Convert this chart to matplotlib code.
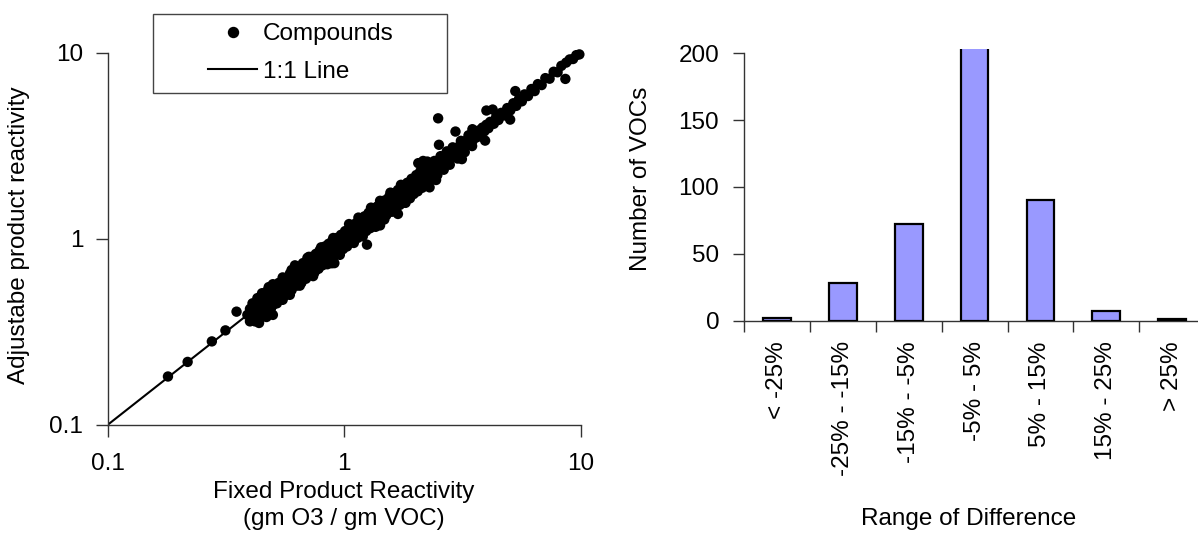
import matplotlib
matplotlib.use("Agg")
import matplotlib.pyplot as plt
from matplotlib.lines import Line2D
from matplotlib.patches import Rectangle
from matplotlib.ticker import FixedLocator, FixedFormatter, NullLocator

plt.rcParams['font.family'] = ['Liberation Sans', 'DejaVu Sans']
FS = 17.5

# ---------------- data: scatter (Fixed vs Adjustable product reactivity) ----------------
fixed_x = [
    0.18, 0.218, 0.276, 0.315, 0.351,
    0.39, 0.40, 0.41, 0.42, 0.42, 0.43, 0.44, 0.44, 0.45, 0.46, 0.46, 0.47, 0.48, 0.48, 0.49,
    0.50, 0.50, 0.437, 0.47, 0.52, 0.50, 0.50,
    0.51, 0.52, 0.53, 0.54, 0.55, 0.56, 0.57, 0.58, 0.58, 0.60, 0.61, 0.62, 0.63, 0.64, 0.65,
    0.66, 0.67, 0.68, 0.69, 0.70, 0.71, 0.72, 0.73, 0.74, 0.75, 0.76, 0.77, 0.78, 0.80, 0.81,
    0.82, 0.84, 0.85, 0.86, 0.88, 0.89, 0.90, 0.92, 0.93, 0.95, 0.96, 0.98, 0.99,
    0.62, 0.71, 0.55, 0.91, 0.59, 0.887,
    0.40, 0.41, 0.43, 0.45, 0.47, 0.49, 0.51, 0.52, 0.53, 0.54, 0.56, 0.57, 0.59, 0.60, 0.61,
    0.63, 0.64, 0.66, 0.67, 0.69, 0.70, 0.72, 0.73, 0.75, 0.76, 0.78, 0.79, 0.81, 0.83, 0.84,
    0.86, 0.88, 0.89, 0.91, 0.93, 0.95, 0.97, 0.99,
    0.55, 0.60, 0.65, 0.70, 0.74, 0.80, 0.85, 0.90, 0.96, 0.45, 0.42, 0.48,
    1.00, 1.02, 1.04, 1.05, 1.07, 1.08, 1.10, 1.11, 1.13, 1.15, 1.16, 1.18, 1.20, 1.21, 1.23,
    1.25, 1.26, 1.28, 1.30, 1.31, 1.33, 1.35, 1.37, 1.39, 1.41, 1.43, 1.45, 1.47, 1.50, 1.52,
    1.54, 1.56, 1.59, 1.61, 1.63, 1.66, 1.68, 1.70, 1.73, 1.76, 1.78, 1.81, 1.84, 1.86, 1.89,
    1.92, 1.95, 1.98,
    1.01, 1.03, 1.06, 1.09, 1.12, 1.14, 1.17, 1.19, 1.22, 1.24, 1.27, 1.29, 1.32, 1.34, 1.38,
    1.40, 1.44, 1.46, 1.49, 1.51, 1.55, 1.58, 1.62, 1.65, 1.69, 1.72, 1.77, 1.80, 1.85, 1.88,
    1.93, 1.97,
    1.05, 1.10, 1.15, 1.20, 1.30, 1.36, 1.42, 1.48, 1.57, 1.64, 1.74, 1.82,
    1.25, 1.42, 1.69, 1.60, 1.75, 1.90,
    2.00, 2.03, 2.06, 2.08, 2.12, 2.16, 2.18, 2.22, 2.25, 2.28, 2.30, 2.33, 2.36, 2.40, 2.43,
    2.45, 2.47, 2.50, 2.50, 2.52, 2.55, 2.58, 2.62, 2.66, 2.70, 2.74, 2.78, 2.82, 2.86, 2.90,
    2.96, 2.95, 3.00, 3.05, 3.10, 3.15, 3.15, 3.20, 3.26, 3.32, 3.38, 3.44, 3.49, 3.50, 3.57,
    3.64, 3.71, 3.78, 3.85, 3.92, 3.95, 4.00,
    2.02, 2.05, 2.10, 2.14, 2.20, 2.24, 2.30, 2.35, 2.41, 2.48, 2.56, 2.64, 2.72, 2.80, 2.88,
    3.02, 3.12, 3.24, 3.36, 3.48,
    4.00, 4.08, 4.15, 4.25, 4.30, 4.40, 4.50, 4.62, 4.75, 4.90, 5.04, 5.05, 5.20, 5.30, 5.35,
    5.50, 5.65, 5.80, 6.00, 6.20, 6.40, 6.60, 6.85, 7.10, 7.40, 7.70, 8.00, 8.30, 8.63, 8.70,
    9.00, 9.30, 9.60, 9.89,
]
adjustable_y = [
    0.182, 0.218, 0.281, 0.322, 0.406,
    0.39, 0.42, 0.40, 0.44, 0.38, 0.41, 0.46, 0.37, 0.43, 0.48, 0.40, 0.45, 0.50, 0.42, 0.47,
    0.52, 0.44, 0.353, 0.38, 0.47, 0.57, 0.39,
    0.49, 0.53, 0.50, 0.56, 0.52, 0.54, 0.58, 0.55, 0.51, 0.60, 0.57, 0.63, 0.59, 0.66, 0.62,
    0.64, 0.70, 0.65, 0.62, 0.71, 0.68, 0.74, 0.70, 0.76, 0.72, 0.68, 0.78, 0.75, 0.82, 0.77,
    0.80, 0.86, 0.81, 0.84, 0.90, 0.85, 0.88, 0.94, 0.89, 0.97, 0.92, 1.00, 0.95,
    0.72, 0.80, 0.62, 0.74, 0.50, 0.739,
    0.36, 0.45, 0.48, 0.39, 0.52, 0.42, 0.56, 0.45, 0.58, 0.48, 0.61, 0.50, 0.65, 0.53, 0.67,
    0.56, 0.70, 0.58, 0.74, 0.61, 0.77, 0.64, 0.80, 0.66, 0.83, 0.69, 0.87, 0.72, 0.91, 0.75,
    0.94, 0.78, 0.97, 0.81, 1.01, 0.84, 1.05, 0.88,
    0.47, 0.68, 0.56, 0.79, 0.63, 0.90, 0.73, 1.01, 0.82, 0.51, 0.36, 0.55,
    1.03, 0.98, 1.07, 1.01, 1.10, 1.04, 1.06, 1.14, 1.09, 1.18, 1.12, 1.15, 1.24, 1.16, 1.20,
    1.29, 1.21, 1.24, 1.34, 1.26, 1.30, 1.39, 1.32, 1.35, 1.45, 1.38, 1.42, 1.52, 1.45, 1.48,
    1.59, 1.50, 1.55, 1.66, 1.57, 1.62, 1.74, 1.64, 1.69, 1.82, 1.71, 1.77, 1.90, 1.79, 1.85,
    1.98, 1.88, 1.93,
    1.10, 0.91, 1.15, 0.97, 1.21, 1.01, 1.27, 1.05, 1.32, 1.10, 1.38, 1.14, 1.43, 1.19, 1.49,
    1.24, 1.56, 1.29, 1.61, 1.34, 1.68, 1.40, 1.76, 1.46, 1.83, 1.52, 1.92, 1.59, 2.00, 1.66,
    2.10, 1.74,
    1.20, 0.95, 1.30, 1.03, 1.47, 1.16, 1.60, 1.27, 1.77, 1.41, 1.95, 1.56,
    0.93, 1.18, 1.36, 1.40, 1.55, 1.65,
    2.06, 1.96, 2.55, 2.12, 2.04, 2.62, 2.22, 2.15, 2.60, 2.33, 1.89, 2.25, 2.42, 2.31, 2.49,
    2.07, 2.38, 2.57, 4.44, 3.20, 2.46, 2.65, 2.52, 2.74, 2.60, 2.82, 2.68, 2.90, 2.75, 2.98,
    3.77, 2.84, 3.08, 2.94, 3.19, 2.68, 3.03, 3.29, 3.14, 3.41, 3.26, 3.54, 3.88, 3.37, 3.67,
    3.51, 3.82, 3.64, 3.96, 3.78, 3.37, 4.10,
    2.20, 1.80, 2.30, 1.88, 2.40, 1.97, 2.50, 2.08, 2.62, 2.20, 2.78, 2.35, 2.95, 2.50, 3.10,
    2.70, 3.36, 2.92, 3.60, 3.15,
    4.89, 3.93, 4.25, 4.95, 4.15, 4.52, 4.35, 4.75, 4.60, 5.04, 4.37, 4.90, 5.35, 6.22, 5.18,
    5.66, 5.48, 5.97, 5.85, 6.38, 6.22, 6.78, 6.70, 7.30, 7.25, 7.90, 7.85, 8.50, 7.23, 8.85,
    9.20, 9.25, 9.70, 9.79,
]
line_x = [0.1, 10]
line_y = [0.1, 10]
log_ticks = [0.1, 1, 10]
log_tick_labels = ["0.1", "1", "10"]

# ---------------- data: histogram of differences ----------------
categories = ["< -25%", "-25% - -15%", "-15% - -5%", "-5% - 5%", "5% - 15%", "15% - 25%", "> 25%"]
counts = [2, 28, 72, 240, 90, 7, 1]
count_ticks = [0, 50, 100, 150, 200]

W, H = 1198, 533
fig = plt.figure(figsize=(W / 100, H / 100), dpi=100)

# ---------------- left: scatter ----------------
ax1 = fig.add_axes([107.6 / W, 1 - 424.9 / H, 472.9 / W, 372.2 / H])
ax1.set_xscale('log')
ax1.set_yscale('log')
ax1.plot(line_x, line_y, color='black', lw=1.5, zorder=2)
ax1.scatter(fixed_x, adjustable_y, s=56, color='black', edgecolors='none', zorder=3, clip_on=False)
ax1.set_xlim(0.1, 10)
ax1.set_ylim(0.1, 10)
for a in (ax1.xaxis, ax1.yaxis):
    a.set_major_locator(FixedLocator(log_ticks))
    a.set_major_formatter(FixedFormatter(log_tick_labels))
    a.set_minor_locator(NullLocator())
ax1.spines['top'].set_visible(False)
ax1.spines['right'].set_visible(False)
for s in ('left', 'bottom'):
    ax1.spines[s].set_color('#333333')
    ax1.spines[s].set_linewidth(1.0)
ax1.tick_params(axis='both', which='major', length=8.5, width=1.0, direction='out',
                labelsize=FS, color='#333333')
ax1.tick_params(axis='x', pad=12)
ax1.tick_params(axis='y', pad=9)
ax1.set_xlabel("Fixed Product Reactivity\n(gm O3 / gm VOC)", fontsize=FS, linespacing=1.3)
ax1.xaxis.set_label_coords(0.5, -0.15)
ax1.set_ylabel("Adjustabe product reactivity", fontsize=FS)
ax1.yaxis.set_label_coords(-0.164, 0.51)

handles = [Line2D([], [], marker='o', color='black', linestyle='None', markersize=7.2),
           Line2D([], [], color='black', lw=1.5)]
ax1.legend(handles, ["Compounds", "1:1 Line"], loc='center',
           bbox_to_anchor=(301 / W, 1 - 53 / H), bbox_transform=fig.transFigure,
           frameon=False, fontsize=FS, handlelength=2.0, handletextpad=0.25,
           labelspacing=0.62, borderpad=0)
fig.add_artist(Rectangle((153.4 / W, 1 - 92.5 / H), (447.2 - 153.4) / W, (92.5 - 13.6) / H,
                         transform=fig.transFigure, fill=False, edgecolor='#444444', lw=1.0))

# ---------------- right: bars ----------------
ax2 = fig.add_axes([744.2 / W, 1 - 320.5 / H, (1205 - 744.2) / W, (320.5 - 48.6) / H])
xpos = list(range(len(categories)))
ax2.bar(xpos, counts, width=0.42, color='#9999FF', edgecolor='black', linewidth=1.6, zorder=3)
ax2.set_xlim(-0.5, len(categories) - 0.5)
ax2.set_ylim(0, 203.6)
ax2.spines['top'].set_visible(False)
ax2.spines['right'].set_visible(False)
ax2.spines['left'].set_bounds(0, 200)
for s in ('left', 'bottom'):
    ax2.spines[s].set_color('#333333')
    ax2.spines[s].set_linewidth(1.0)
ax2.set_yticks(count_ticks)
ax2.set_yticklabels([str(v) for v in count_ticks])
ax2.set_xticks(xpos)
ax2.set_xticklabels(categories, rotation=90, va='top', ha='center')
ax2.set_xticks([p - 0.5 for p in xpos] + [len(categories) - 0.5], minor=True)
ax2.tick_params(axis='x', which='major', length=0, pad=15, labelsize=FS)
ax2.tick_params(axis='x', which='minor', length=8, width=1.0, direction='out', color='#333333')
ax2.tick_params(axis='y', which='major', length=8, width=1.0, direction='out', pad=10,
                labelsize=FS, color='#333333')
ax2.set_ylabel("Number of VOCs", fontsize=FS)
ax2.yaxis.set_label_coords(-0.2, 0.52)
ax2.set_xlabel("Range of Difference", fontsize=FS)
ax2.xaxis.set_label_coords(0.487, -0.69)

fig.savefig("out.png", dpi=100)
